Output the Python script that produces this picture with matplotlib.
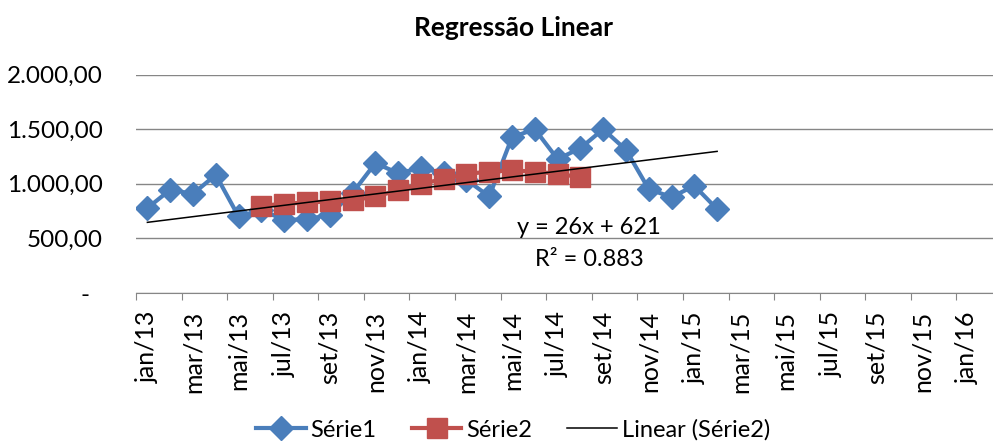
import numpy as np
import matplotlib.pyplot as plt

plt.rcParams['font.family'] = ['Lato', 'DejaVu Sans']

# x axis labels (every second month, from jan/13)
tick_labels = ['jan/13', 'mar/13', 'mai/13', 'jul/13', 'set/13', 'nov/13',
               'jan/14', 'mar/14', 'mai/14', 'jul/14', 'set/14', 'nov/14',
               'jan/15', 'mar/15', 'mai/15', 'jul/15', 'set/15', 'nov/15',
               'jan/16']

# Série1: jan/13 .. fev/15
serie1 = [778, 945, 908, 1082, 701, 760, 670, 675, 716, 916, 1189, 1098, 1143,
          1098, 1036, 884, 1427, 1500, 1226, 1326, 1500, 1311, 951, 878, 982, 768]

# Série2: jun/13 .. jul/14
serie2 = [799, 817, 829, 838, 848, 884, 939, 1000, 1043, 1090, 1112, 1122,
          1112, 1091, 1061]
serie2_start = 5

# trendline as shown on the chart
trend_slope = 26
trend_intercept = 621
eq_text = 'y = 26x + 621'
r2_text = 'R² = 0.883'

y_ticks = [0, 500, 1000, 1500, 2000]
y_labels = ['-  ', '500,00', '1.000,00', '1.500,00', '2.000,00']

blue = '#4A7EBB'
red = '#C0504D'
grey = '#868686'

x1 = np.arange(len(serie1))
x2 = np.arange(len(serie2)) + serie2_start
trend = trend_slope * (x1 + 1) + trend_intercept

fig = plt.figure(figsize=(9.93, 4.43), dpi=100)
W, H = 993, 443
ax = fig.add_axes([136 / W, 150 / H, 866 / W, (293 - 74.6) / H])

l1, = ax.plot(x1, serie1, color=blue, lw=3, marker='D', ms=12,
              label='Série1', zorder=3)
l2, = ax.plot(x2, serie2, color=red, lw=3, marker='s', ms=14,
              label='Série2', zorder=4)
l3, = ax.plot(x1, trend, color='black', lw=1.1, label='Linear (Série2)',
              zorder=5)

ax.set_ylim(0, 2000)
ax.set_xlim(-0.5, 37.5)
ax.set_yticks(y_ticks)
ax.set_yticklabels(y_labels)
ax.yaxis.grid(True, color=grey, lw=1)
ax.set_axisbelow(True)

ax.set_xticks(np.arange(-0.5, 38, 2))
ax.set_xticks(np.arange(0, 37, 2), minor=True)
ax.set_xticklabels(tick_labels, minor=True, rotation=90)
ax.tick_params(axis='x', which='major', length=5, color=grey,
               labelbottom=False)
ax.tick_params(axis='x', which='minor', length=0, pad=13, labelsize=18)
ax.tick_params(axis='y', length=0, pad=24, labelsize=17.5)

for s in ['left', 'top', 'right']:
    ax.spines[s].set_visible(False)
ax.spines['bottom'].set_color(grey)

fig.text(513 / W, 1 - 36 / H, 'Regressão Linear', ha='center', va='baseline',
         fontsize=19, fontweight='bold')
fig.text(589 / W, 1 - 228 / H, eq_text, ha='center', va='center', fontsize=17)
fig.text(589 / W, 1 - 259 / H, r2_text, ha='center', va='center', fontsize=17)

fig.legend(handles=[l1, l2, l3], loc='center', ncol=3, frameon=False,
           bbox_to_anchor=(513 / W, 1 - 430 / H), fontsize=17,
           handlelength=2.1, handletextpad=0.2, columnspacing=1.5,
           numpoints=1)

fig.savefig('out.png', dpi=100)
